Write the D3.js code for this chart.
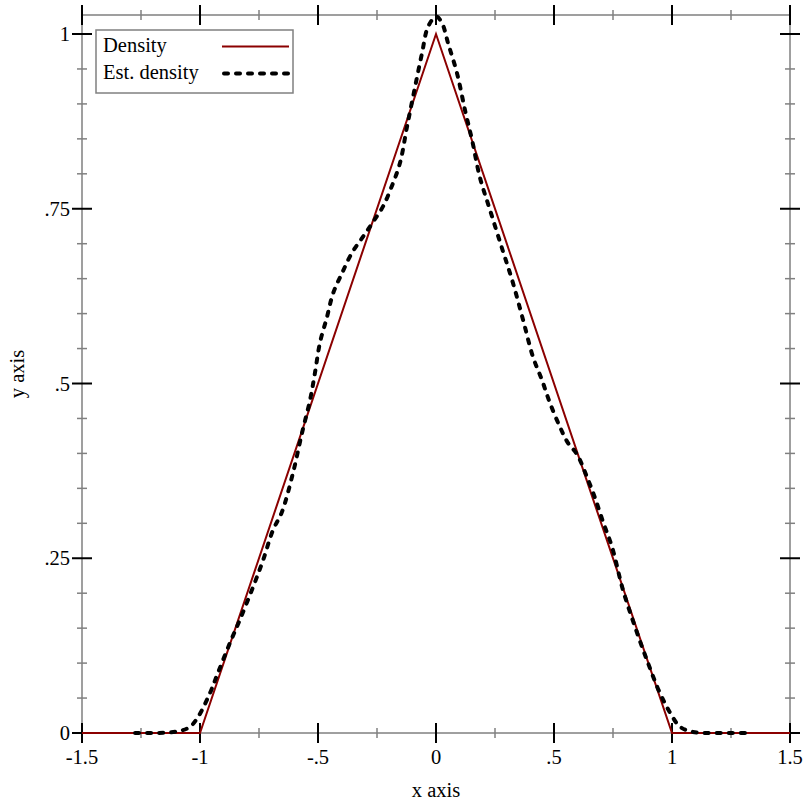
<!DOCTYPE html>
<html><head><meta charset="utf-8">
<script src="https://cdn.jsdelivr.net/npm/d3@7"></script>
<style>body{margin:0;background:#fff}svg{display:block}text{font-family:"Liberation Serif","Times New Roman",serif;fill:#000}</style>
</head><body>
<svg id="c" width="812" height="812"></svg>
<script>
// Data
const densityX = [-1.5, -1, 0, 1, 1.5];
const densityY = [0, 0, 1, 0, 0];
const estX = [-1.275,-1.148,-1.085,-1.042,-1.008,-0.958,-0.924,-0.873,-0.831,-0.775,-0.733,-0.691,-0.653,-0.606,-0.568,-0.534,-0.513,-0.492,-0.462,-0.436,-0.398,-0.356,-0.309,-0.267,-0.225,-0.19,-0.153,-0.123,-0.089,-0.059,-0.034,0.0,0.025,0.051,0.089,0.123,0.153,0.186,0.229,0.282,0.326,0.369,0.411,0.449,0.483,0.525,0.559,0.597,0.640,0.674,0.708,0.746,0.792,0.843,0.894,0.949,0.992,1.034,1.089,1.17,1.31];
const estY = [0,0.0005,0.003,0.009,0.023,0.057,0.086,0.129,0.162,0.209,0.247,0.290,0.316,0.372,0.429,0.476,0.515,0.558,0.595,0.629,0.658,0.687,0.710,0.731,0.753,0.78,0.815,0.867,0.924,0.973,1.010,1.025,1.016,0.987,0.944,0.891,0.848,0.795,0.748,0.691,0.644,0.591,0.538,0.505,0.472,0.438,0.415,0.399,0.366,0.336,0.302,0.266,0.205,0.152,0.104,0.057,0.029,0.009,0.0015,0,0];
const xMajor = [-1.5,-1,-0.5,0,0.5,1,1.5];
const xMajorLabels = ["-1.5","-1","-.5","0",".5","1","1.5"];
const xMinor = [-1.25,-0.75,-0.25,0.25,0.75,1.25];
const yMajor = [0,0.25,0.5,0.75,1];
const yMajorLabels = ["0",".25",".5",".75","1"];
const yMinor = [0.05,0.1,0.15,0.2,0.3,0.35,0.4,0.45,0.55,0.6,0.65,0.7,0.8,0.85,0.9,0.95];
const legendLabels = ["Density","Est. density"];

const L=82,R=790,T=15,B=733;
const x=d3.scaleLinear().domain([-1.5,1.5]).range([L,R]);
const y=d3.scaleLinear().domain([0,1.0272]).range([B,T]);
const svg=d3.select("#c");
const axisCol="#808080";
const fs=20.5;

svg.append("rect").attr("x",L).attr("y",T).attr("width",R-L).attr("height",B-T)
  .attr("fill","none").attr("stroke",axisCol).attr("stroke-width",1.5);

function ticks(g){
  [B,T].forEach(yy=>{
    g.selectAll(null).data(xMinor).enter().append("line")
      .attr("x1",d=>x(d)).attr("x2",d=>x(d)).attr("y1",yy-5).attr("y2",yy+5)
      .attr("stroke",axisCol).attr("stroke-width",1.5);
    g.selectAll(null).data(xMajor).enter().append("line")
      .attr("x1",d=>x(d)).attr("x2",d=>x(d)).attr("y1",yy-10).attr("y2",yy+10)
      .attr("stroke","#000").attr("stroke-width",2);
  });
  [L,R].forEach(xx=>{
    g.selectAll(null).data(yMinor).enter().append("line")
      .attr("y1",d=>y(d)).attr("y2",d=>y(d)).attr("x1",xx-5).attr("x2",xx+5)
      .attr("stroke",axisCol).attr("stroke-width",1.5);
    g.selectAll(null).data(yMajor).enter().append("line")
      .attr("y1",d=>y(d)).attr("y2",d=>y(d)).attr("x1",xx-10).attr("x2",xx+10)
      .attr("stroke","#000").attr("stroke-width",2);
  });
}
ticks(svg.append("g"));

svg.append("g").selectAll("text").data(xMajor).enter().append("text")
  .attr("x",d=>x(d)).attr("y",B+31).attr("text-anchor","middle")
  .attr("font-size",fs).text((d,i)=>xMajorLabels[i]);
svg.append("g").selectAll("text").data(yMajor).enter().append("text")
  .attr("x",L-12).attr("y",d=>y(d)+7).attr("text-anchor","end")
  .attr("font-size",fs).text((d,i)=>yMajorLabels[i]);

svg.append("text").attr("x",(L+R)/2).attr("y",797).attr("text-anchor","middle").attr("font-size",fs).text("x axis");
svg.append("text").attr("transform","translate(24,"+((T+B)/2)+") rotate(-90)").attr("text-anchor","middle").attr("font-size",fs).text("y axis");

const densityData=densityX.map((d,i)=>[d,densityY[i]]);
const estData=estX.map((d,i)=>[d,estY[i]]);
svg.append("path").datum(densityData)
  .attr("d",d3.line().x(d=>x(d[0])).y(d=>y(d[1])))
  .attr("fill","none").attr("stroke","#8b0000").attr("stroke-width",2);
svg.append("path").datum(estData)
  .attr("d",d3.line().curve(d3.curveCatmullRom).x(d=>x(d[0])).y(d=>y(d[1])))
  .attr("fill","none").attr("stroke","#000").attr("stroke-width",4)
  .attr("stroke-dasharray","4,8").attr("stroke-linecap","round");

const lg=svg.append("g");
lg.append("rect").attr("x",96).attr("y",30).attr("width",197).attr("height",63)
  .attr("fill","#fff").attr("stroke",axisCol).attr("stroke-width",1.5);
lg.selectAll("text").data(legendLabels).enter().append("text")
  .attr("x",103).attr("y",(d,i)=>52+i*27).attr("font-size",fs).text(d=>d);
lg.append("line").attr("x1",222).attr("x2",289).attr("y1",46.5).attr("y2",46.5)
  .attr("stroke","#8b0000").attr("stroke-width",2);
lg.append("line").attr("x1",224).attr("x2",289).attr("y1",73.5).attr("y2",73.5)
  .attr("stroke","#000").attr("stroke-width",4).attr("stroke-dasharray","4,8").attr("stroke-linecap","round");
</script>
</body></html>
